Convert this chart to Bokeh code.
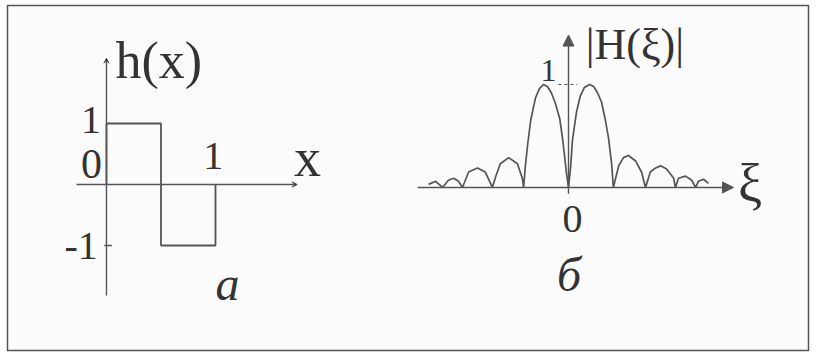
from bokeh.plotting import figure
from bokeh.models import Range1d, Label, Arrow, NormalHead, VeeHead
from bokeh.embed import file_html
from bokeh.resources import INLINE

# ---------------- data ----------------
# panel a: Haar function h(x)
h_x = [0, 0, 0.5, 0.5, 1, 1]
h_y = [0, 1, 1, -1, -1, 0]
h_ytick_vals = [1, -1]
h_ytick_labels = ["1", "-1"]
h_xtick_vals = [1]
h_xtick_labels = ["1"]
h_origin_label = "0"

# panel b: |H(xi)|
xi = [-3.18, -3.02, -2.86, -2.73, -2.61, -2.50, -2.41, -2.27, -2.07, -1.89,
      -1.73, -1.66, -1.55, -1.36, -1.16, -1.05, -1.02, -0.98, -0.93, -0.86,
      -0.75, -0.66, -0.57, -0.48, -0.39, -0.30, -0.20, -0.14, -0.09, -0.05,
      0.0, 0.05, 0.09, 0.18, 0.27, 0.36, 0.48, 0.57, 0.66, 0.75,
      0.84, 0.91, 0.98, 1.02, 1.14, 1.25, 1.36, 1.52, 1.66, 1.75,
      1.86, 1.98, 2.09, 2.23, 2.39, 2.43, 2.50, 2.66, 2.80, 2.89,
      2.95, 3.07, 3.18]
H_abs = [0.03, 0.06, 0.0, 0.07, 0.09, 0.06, 0.0, 0.15, 0.19, 0.15,
         0.0, 0.10, 0.23, 0.29, 0.23, 0.09, 0.0, 0.21, 0.41, 0.65,
         0.87, 0.96, 1.0, 0.98, 0.92, 0.82, 0.67, 0.49, 0.31, 0.15,
         0.0, 0.21, 0.46, 0.73, 0.89, 0.97, 1.0, 0.98, 0.92, 0.83,
         0.65, 0.48, 0.23, 0.0, 0.21, 0.29, 0.31, 0.26, 0.15, 0.0,
         0.15, 0.19, 0.21, 0.18, 0.09, 0.0, 0.09, 0.11, 0.07, 0.0,
         0.06, 0.08, 0.04]
H_ytick_vals = [1]
H_ytick_labels = ["1"]
H_xtick_vals = [0]
H_xtick_labels = ["0"]

# ---------------- styling ----------------
FONT = "Liberation Serif"
TXT = "#333333"
LINE = "#555555"
BG = "#fbfbfb"

p = figure(width=812, height=353, toolbar_location=None,
           min_border_left=7, min_border_right=4, min_border_top=5, min_border_bottom=3,
           output_backend="svg", x_axis_type=None, y_axis_type=None,
           x_range=Range1d(-0.908, 6.44), y_range=Range1d(-2.721, 2.934))
p.extra_x_ranges = {"r": Range1d(-12.75, 5.4545)}
p.extra_y_ranges = {"r": Range1d(-1.583, 1.767)}
p.grid.visible = False
p.background_fill_color = BG
p.border_fill_color = "#ffffff"
p.outline_line_color = "#555555"
p.outline_line_width = 1.5


def lab(x, y, t, size, align="center", style="normal", rng=None):
    kw = dict(x=x, y=y, text=t, text_font=FONT, text_font_size=size,
              text_font_style=style, text_color=TXT, text_align=align,
              text_baseline="middle")
    if rng:
        kw.update(x_range_name=rng, y_range_name=rng)
    p.add_layout(Label(**kw))


# ---------- panel a ----------
p.add_layout(Arrow(x_start=-0.275, y_start=0, x_end=1.75, y_end=0,
                   line_color=LINE, line_width=1.4,
                   end=VeeHead(size=5, line_color=LINE, line_width=1)))
p.add_layout(Arrow(x_start=0, y_start=-1.82, x_end=0, y_end=2.07,
                   line_color=LINE, line_width=1.4,
                   end=VeeHead(size=5, line_color=LINE, line_width=1)))
p.line(h_x, h_y, line_color=LINE, line_width=1.8)
p.segment(x0=[-0.02], y0=[h_ytick_vals[1]], x1=[0.05], y1=[h_ytick_vals[1]],
          line_color=LINE, line_width=1.3)

lab(-0.05, h_ytick_vals[0] + 0.05, h_ytick_labels[0], "40px", "right")
lab(-0.08, h_ytick_vals[1], h_ytick_labels[1], "40px", "right")
for v, t in zip(h_xtick_vals, h_xtick_labels):
    lab(v - 0.02, 0.475, t, "40px", "center")
lab(-0.04, 0.344, h_origin_label, "42px", "right")
lab(0.083, 2.04, "h(x)", "52px", "left")
lab(1.72, 0.44, "x", "54px", "left")
lab(1.0, -1.62, "а", "48px", "left", "italic")

# ---------- panel b ----------
p.add_layout(Arrow(x_start=-3.43, y_start=0, x_end=3.75, y_end=0,
                   x_range_name="r", y_range_name="r",
                   line_color=LINE, line_width=1.4,
                   end=NormalHead(size=11, line_color=LINE, fill_color=LINE)))
p.add_layout(Arrow(x_start=0, y_start=-0.06, x_end=0, y_end=1.48,
                   x_range_name="r", y_range_name="r",
                   line_color=LINE, line_width=1.4,
                   end=NormalHead(size=11, line_color=LINE, fill_color=LINE)))
p.line(xi, H_abs, x_range_name="r", y_range_name="r",
       line_color=LINE, line_width=1.7)
p.line([-0.23, 0.2], [H_ytick_vals[0], H_ytick_vals[0]], x_range_name="r",
       y_range_name="r", line_color=LINE, line_width=1, line_dash="3 3")

for v, t in zip(H_ytick_vals, H_ytick_labels):
    lab(-0.27, v + 0.136, t, "32px", "right", rng="r")
for v, t in zip(H_xtick_vals, H_xtick_labels):
    lab(v + 0.09, -0.306, t, "40px", "center", rng="r")
lab(0.39, 1.39, "|H(ξ)|", "44px", "left", rng="r")
lab(3.85, 0.03, "ξ", "54px", "left", rng="r")
lab(-0.26, -0.845, "б", "48px", "left", "italic", rng="r")

open("out.html", "w").write(file_html(p, INLINE))
